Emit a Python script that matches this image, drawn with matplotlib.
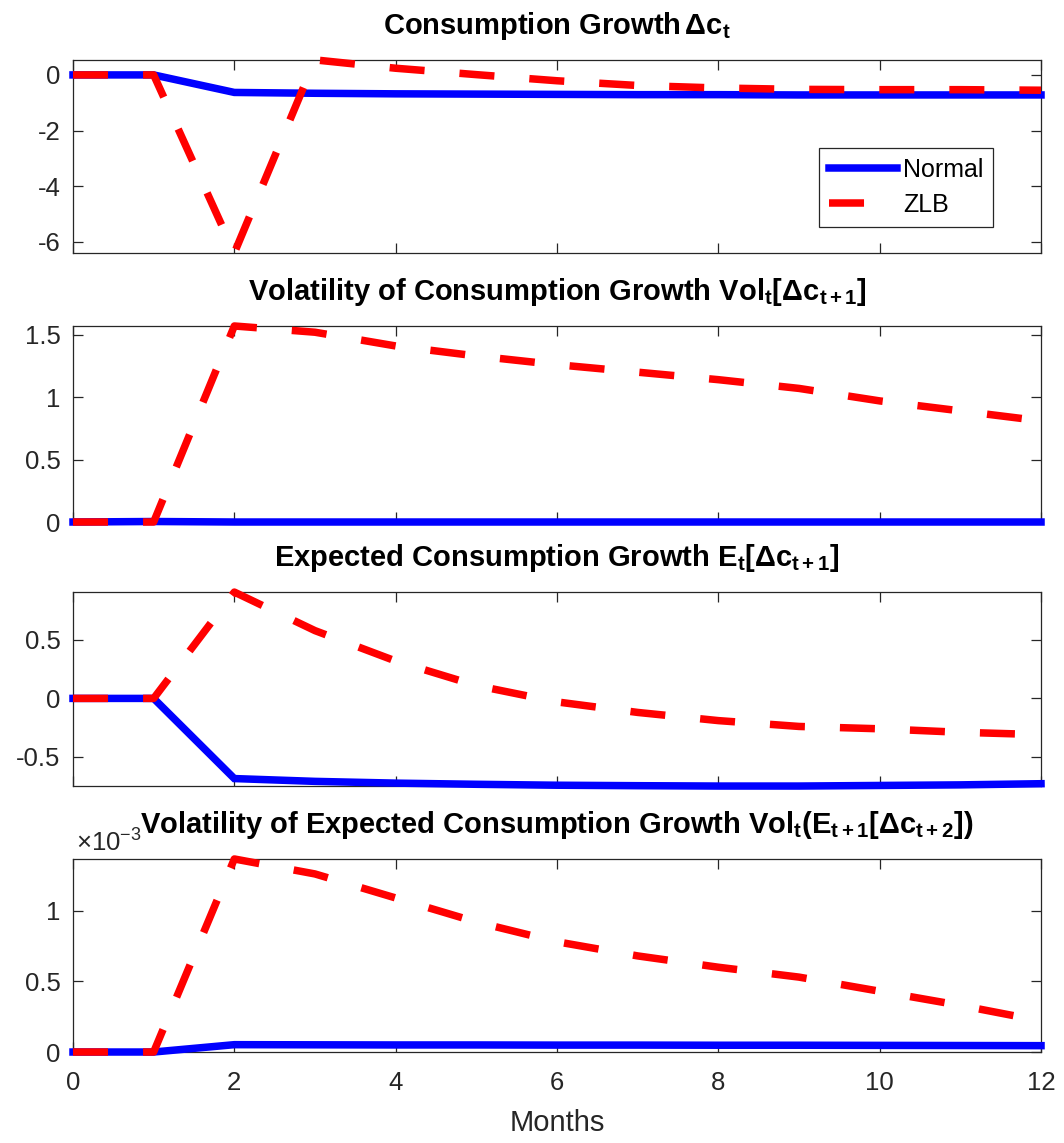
import matplotlib
matplotlib.use('Agg')
import matplotlib.pyplot as plt
from matplotlib.ticker import FuncFormatter

plt.rcParams['font.family'] = ['Liberation Sans', 'DejaVu Sans']
plt.rcParams['mathtext.fontset'] = 'custom'
plt.rcParams['mathtext.rm'] = 'Liberation Sans'
plt.rcParams['mathtext.bf'] = 'Liberation Sans:bold'
plt.rcParams['mathtext.it'] = 'Liberation Sans:italic'
plt.rcParams['axes.unicode_minus'] = False

months = list(range(13))

# consumption growth
cg_normal = [0, 0, -0.63, -0.66, -0.68, -0.69, -0.70, -0.71, -0.71, -0.72, -0.72, -0.72, -0.72]
cg_zlb = [0, 0, -6.4, 0.54, 0.24, 0.01, -0.21, -0.38, -0.47, -0.52, -0.53, -0.53, -0.55]
# volatility of consumption growth
vol_normal = [0, 0.004, 0, 0, 0, 0, 0, 0, 0, 0, 0, 0, 0]
vol_zlb = [0, 0, 1.57, 1.52, 1.41, 1.33, 1.26, 1.20, 1.14, 1.07, 0.97, 0.89, 0.81]
# expected consumption growth
ecg_normal = [0, 0, -0.686, -0.71, -0.725, -0.735, -0.743, -0.747, -0.75, -0.75, -0.745, -0.74, -0.73]
ecg_zlb = [0, 0, 0.91, 0.58, 0.32, 0.11, -0.03, -0.12, -0.19, -0.24, -0.26, -0.29, -0.31]
# volatility of expected consumption growth (x 1e-3)
vecg_normal = [0, 0, 0.052, 0.051, 0.050, 0.050, 0.049, 0.049, 0.048, 0.048, 0.047, 0.046, 0.045]
vecg_zlb = [0, 0, 1.366, 1.26, 1.09, 0.92, 0.78, 0.68, 0.60, 0.53, 0.43, 0.33, 0.22]
scale4 = 1e-3

titles = [
    r'Consumption Growth$\mathbf{\,\Delta c_t}$',
    r'Volatility of Consumption Growth $\mathbf{Vol_t[\Delta c_{t+1}]}$',
    r'Expected Consumption Growth $\mathbf{E_t[\Delta c_{t+1}]}$',
    r'Volatility of Expected Consumption Growth $\mathbf{Vol_t(E_{t+1}[\Delta c_{t+2}])}$',
]
series = [
    (cg_normal, cg_zlb, 1),
    (vol_normal, vol_zlb, 1),
    (ecg_normal, ecg_zlb, 1),
    (vecg_normal, vecg_zlb, scale4),
]
yticks = [[-6, -4, -2, 0], [0, 0.5, 1, 1.5], [-0.5, 0, 0.5], [0, 0.5e-3, 1e-3]]

fig = plt.figure(figsize=(10.64, 11.43), dpi=100)
left, width = 0.0686, 0.9098
bottoms = [0.7787, 0.5433, 0.3123, 0.0796]
heights = [0.1689, 0.1715, 0.1697, 0.1689]
edge = '#262626'
lw = 5.4
tick_fs = 18.5
title_fs = 21

for i in range(4):
    ax = fig.add_axes([left, bottoms[i], width, heights[i]])
    normal, zlb, s = series[i]
    yn = [v * s for v in normal]
    yz = [v * s for v in zlb]
    ax.plot(months, yn, color='#0000ff', lw=lw, label='Normal', clip_on=False,
            solid_joinstyle='miter', zorder=3)
    ax.plot(months, yz, color='#ff0000', lw=lw, label='ZLB', clip_on=False,
            dashes=(4.67, 4.67), dash_capstyle='butt', zorder=4)
    ax.set_xlim(0, 12)
    ax.set_ylim(min(yn + yz), max(yn + yz))
    ax.set_xticks(range(0, 13, 2))
    ax.set_yticks(yticks[i])
    ax.tick_params(direction='in', length=7, width=0.9, colors=edge, labelsize=tick_fs,
                   top=True, right=True)
    ax.tick_params(axis='y', pad=9)
    ax.tick_params(axis='x', pad=14)
    for sp in ax.spines.values():
        sp.set_color(edge)
        sp.set_linewidth(0.9)
    t = ax.set_title(titles[i], fontsize=title_fs, fontweight='bold', pad=19)
    t.set_zorder(10)
    if i == 3:
        ax.yaxis.set_major_formatter(FuncFormatter(lambda v, p: f'{v / scale4:g}'))
        ax.text(0.003, 0.036 + 1, r'$\times10^{-3}$', transform=ax.transAxes, fontsize=tick_fs,
                color=edge, ha='left', va='baseline', zorder=5)
        ax.set_xlabel('Months', fontsize=title_fs, color=edge, labelpad=10)
    else:
        ax.yaxis.set_major_formatter(FuncFormatter(lambda v, p: f'{v:g}'))
        ax.set_xticklabels([])
    if i == 0:
        leg = ax.legend(loc='lower left', bbox_to_anchor=(0.771, 0.135), borderaxespad=0,
                        fontsize=18, handlelength=2.7, handletextpad=0.25,
                        labelspacing=0.45, borderpad=0.4, fancybox=False,
                        framealpha=1, edgecolor=edge)
        leg.get_frame().set_linewidth(0.9)

fig.savefig('out.png', dpi=100)
